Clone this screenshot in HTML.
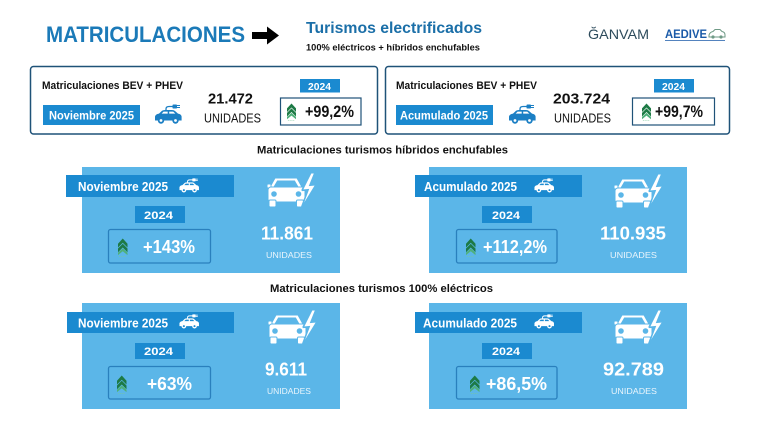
<!DOCTYPE html>
<html><head><meta charset="utf-8"><style>
html,body{margin:0;padding:0;background:#fff;}
svg{display:block;}
text{font-family:"Liberation Sans",sans-serif;}
</style></head><body>
<svg width="760" height="427" viewBox="0 0 760 427" xmlns="http://www.w3.org/2000/svg">
<defs>
  <symbol id="scar" viewBox="0 0 30 21" overflow="visible">
    <path d="M13,9 L13,6 Q13,3.5 16,3.5 L20,3.5" fill="none" stroke="currentColor" stroke-width="1.3"/>
    <rect x="19.5" y="1.5" width="4.5" height="4" rx="0.8" fill="currentColor"/>
    <path d="M24,2.5 L27,2.5 M24,4.5 L27,4.5" stroke="currentColor" stroke-width="1"/>
    <path d="M2,17.5 L2,13.5 Q2.5,11.2 6,10.6 L9,7.8 Q10,7 12,7 L19,7 Q21,7 22,8 L25,10.6 Q28.3,11.2 28.6,13.5 L28.6,17.5 Z" fill="currentColor"/>
    <path d="M10.6,8.6 L14.7,8.6 L14.7,10.6 L8.6,10.6 Z M16.2,8.6 L20.2,8.6 L22.4,10.6 L16.2,10.6 Z"/>
    <circle cx="8" cy="17.5" r="3.2" fill="currentColor"/>
    <circle cx="22.5" cy="17.5" r="3.2" fill="currentColor"/>
    <circle cx="8" cy="17.5" r="1.4"/>
    <circle cx="22.5" cy="17.5" r="1.4"/>
  </symbol>
  <symbol id="fcar" viewBox="0 0 48 35" overflow="visible">
    <path d="M8,5 L30,5 L35.5,15 L2.5,15 Z" fill="currentColor"/>
    <path d="M10.5,8 L27.5,8 L31,14 L7,14 Z"/>
    <rect x="0" y="11" width="4" height="4" rx="1" fill="currentColor"/>
    <rect x="1" y="14" width="37" height="15" rx="3" fill="currentColor"/>
    <circle cx="7" cy="21" r="2.3"/>
    <circle cx="31.5" cy="21" r="2.3"/>
    <rect x="2" y="27" width="7" height="7" rx="1.2" fill="currentColor"/>
    <rect x="29.5" y="27" width="7" height="7" rx="1.2" fill="currentColor"/>
    <path d="M44,0 L35.5,17 L41.5,16.5 L35,34 L48.5,12 L42.5,12.5 L47.5,0 Z" stroke-width="2.2" stroke-linejoin="round"/>
    <path d="M44,0 L35.5,17 L41.5,16.5 L35,34 L48.5,12 L42.5,12.5 L47.5,0 Z" fill="currentColor"/>
  </symbol>
  <symbol id="chev" viewBox="0 0 10 19" overflow="visible">
    <path d="M0,5.5 L5,0 L10,5.5 L10,9.5 L5,4.5 L0,9.5 Z" fill="#1d7a45"/>
    <path d="M0,10.5 L5,5.5 L10,10.5 L10,14.5 L5,9.5 L0,14.5 Z" fill="#1d7a45"/>
    <path d="M0,15 L5,10.5 L10,15 L10,17.5 L5,13.5 L0,17.5 Z" fill="#4fb07a"/>
    <path d="M1,19 L9,19" stroke="#7cc79b" stroke-width="0.8" stroke-dasharray="1 1"/>
  </symbol>
</defs>

<text x="46" y="42" font-size="22" font-weight="bold" fill="#1b7ab8" textLength="199" lengthAdjust="spacingAndGlyphs">MATRICULACIONES</text>
<path d="M252,32 L267,32 L267,26.5 L279,35.5 L267,44.5 L267,39 L252,39 Z" fill="#000"/>
<text x="306" y="33" font-size="15.5" font-weight="bold" fill="#1b6fa8" textLength="176" lengthAdjust="spacingAndGlyphs">Turismos electrificados</text>
<text x="306" y="50.5" font-size="9" font-weight="bold" fill="#111" textLength="174" lengthAdjust="spacingAndGlyphs">100% eléctricos + híbridos enchufables</text>

<text x="588" y="39" font-size="14" fill="#2d4b5c" textLength="61" lengthAdjust="spacingAndGlyphs">ĞANVAM</text>
<text x="665" y="38" font-size="12" font-weight="bold" fill="#1a5aa8" textLength="42" lengthAdjust="spacingAndGlyphs">AEDIVE</text>
<line x1="665" y1="40.5" x2="725" y2="40.5" stroke="#1a5aa8" stroke-width="0.8"/>
<g transform="translate(709,29)">
  <path d="M0,6 Q1,3 4,2.5 L6,0.5 L11,0.5 L13,2.5 Q16,3 16,6 L16,8 L0,8 Z" fill="none" stroke="#6f9a86" stroke-width="1"/>
  <circle cx="4" cy="8" r="1.6" fill="#6f9a86"/><circle cx="12" cy="8" r="1.6" fill="#6f9a86"/>
</g>

<rect x="30.5" y="66.5" width="347" height="67.5" rx="3" fill="#fff" stroke="#1f5278" stroke-width="1.5"/>
<text x="42" y="89" font-size="11" font-weight="bold" fill="#111" textLength="141" lengthAdjust="spacingAndGlyphs">Matriculaciones BEV + PHEV</text>
<rect x="43" y="105" width="97" height="20" fill="#1b8ad0"/>
<text x="49" y="119.5" font-size="11.5" font-weight="bold" fill="#fff" textLength="85" lengthAdjust="spacingAndGlyphs">Noviembre 2025</text>
<use href="#scar" x="153" y="103" width="30" height="21" fill="#ffffff" color="#1b7fc4"/>
<text x="208" y="103.5" font-size="15" font-weight="bold" fill="#111" textLength="45" lengthAdjust="spacingAndGlyphs">21.472</text>
<text x="204" y="122.5" font-size="12.5" fill="#111" textLength="57" lengthAdjust="spacingAndGlyphs">UNIDADES</text>
<rect x="300" y="79" width="40" height="13.5" fill="#1b8ad0"/>
<text x="308" y="90" font-size="10.5" font-weight="bold" fill="#fff" textLength="23" lengthAdjust="spacingAndGlyphs">2024</text>
<rect x="280.5" y="98" width="80.5" height="27" fill="#fff" stroke="#1f5278" stroke-width="1.2"/>
<use href="#chev" x="287" y="103" width="9" height="18"/>
<text x="305" y="117" font-size="17" font-weight="bold" fill="#111" textLength="49" lengthAdjust="spacingAndGlyphs">+99,2%</text>

<rect x="385.5" y="66.5" width="344" height="67.5" rx="3" fill="#fff" stroke="#1f5278" stroke-width="1.5"/>
<text x="396" y="89" font-size="11" font-weight="bold" fill="#111" textLength="141" lengthAdjust="spacingAndGlyphs">Matriculaciones BEV + PHEV</text>
<rect x="396" y="105" width="97" height="20" fill="#1b8ad0"/>
<text x="400" y="119.5" font-size="11.5" font-weight="bold" fill="#fff" textLength="88" lengthAdjust="spacingAndGlyphs">Acumulado 2025</text>
<use href="#scar" x="507" y="103" width="30" height="21" fill="#ffffff" color="#1b7fc4"/>
<text x="553" y="103.5" font-size="15" font-weight="bold" fill="#111" textLength="57" lengthAdjust="spacingAndGlyphs">203.724</text>
<text x="554" y="122.5" font-size="12.5" fill="#111" textLength="57" lengthAdjust="spacingAndGlyphs">UNIDADES</text>
<rect x="654" y="79" width="40" height="13.5" fill="#1b8ad0"/>
<text x="662" y="90" font-size="10.5" font-weight="bold" fill="#fff" textLength="23" lengthAdjust="spacingAndGlyphs">2024</text>
<rect x="632.5" y="98" width="82" height="27" fill="#fff" stroke="#1f5278" stroke-width="1.2"/>
<use href="#chev" x="642" y="103" width="9" height="18"/>
<text x="655" y="117" font-size="17" font-weight="bold" fill="#111" textLength="48" lengthAdjust="spacingAndGlyphs">+99,7%</text>

<text x="257" y="153.5" font-size="11" font-weight="bold" fill="#111" textLength="251" lengthAdjust="spacingAndGlyphs">Matriculaciones turismos híbridos enchufables</text>

<rect x="82" y="167" width="258" height="106" fill="#5bb6e8"/>
<rect x="66" y="175" width="168" height="22" fill="#1b8ad0"/>
<text x="78" y="191" font-size="12.5" font-weight="bold" fill="#fff" textLength="90" lengthAdjust="spacingAndGlyphs">Noviembre 2025</text>
<use href="#scar" x="178" y="177" width="22" height="16" fill="#1b8ad0" color="#ffffff"/>
<rect x="135" y="206" width="50" height="17" fill="#1b8ad0"/>
<text x="144" y="219" font-size="11" font-weight="bold" fill="#fff" textLength="29" lengthAdjust="spacingAndGlyphs">2024</text>
<rect x="108.5" y="229.5" width="102" height="33.5" rx="2" fill="#5bb6e8" stroke="#2a80bd" stroke-width="1.3"/>
<use href="#chev" x="118" y="238" width="9.5" height="19"/>
<text x="143" y="253" font-size="18" font-weight="bold" fill="#fff" textLength="52" lengthAdjust="spacingAndGlyphs">+143%</text>
<use href="#fcar" x="267" y="173" width="48" height="35" fill="#5bb6e8" stroke="#5bb6e8" color="#ffffff"/>
<text x="261" y="239.5" font-size="18" font-weight="bold" fill="#fff" textLength="52" lengthAdjust="spacingAndGlyphs">11.861</text>
<text x="266" y="258" font-size="8.5" fill="#eaf5fc" textLength="46" lengthAdjust="spacingAndGlyphs">UNIDADES</text>

<rect x="429" y="167" width="258" height="106" fill="#5bb6e8"/>
<rect x="415" y="175" width="167" height="22" fill="#1b8ad0"/>
<text x="424" y="191" font-size="12.5" font-weight="bold" fill="#fff" textLength="93" lengthAdjust="spacingAndGlyphs">Acumulado 2025</text>
<use href="#scar" x="533" y="177" width="22" height="16" fill="#1b8ad0" color="#ffffff"/>
<rect x="482" y="206" width="50" height="17" fill="#1b8ad0"/>
<text x="492" y="219" font-size="11" font-weight="bold" fill="#fff" textLength="28" lengthAdjust="spacingAndGlyphs">2024</text>
<rect x="456.5" y="229.5" width="100.5" height="33.5" rx="2" fill="#5bb6e8" stroke="#2a80bd" stroke-width="1.3"/>
<use href="#chev" x="466" y="238" width="9.5" height="19"/>
<text x="483" y="253" font-size="18" font-weight="bold" fill="#fff" textLength="64" lengthAdjust="spacingAndGlyphs">+112,2%</text>
<use href="#fcar" x="614" y="174" width="48" height="35" fill="#5bb6e8" stroke="#5bb6e8" color="#ffffff"/>
<text x="600" y="239.5" font-size="18" font-weight="bold" fill="#fff" textLength="66" lengthAdjust="spacingAndGlyphs">110.935</text>
<text x="610" y="258" font-size="8.5" fill="#eaf5fc" textLength="47" lengthAdjust="spacingAndGlyphs">UNIDADES</text>

<text x="270" y="292" font-size="11" font-weight="bold" fill="#111" textLength="223" lengthAdjust="spacingAndGlyphs">Matriculaciones turismos 100% eléctricos</text>

<rect x="82" y="303" width="258" height="106" fill="#5bb6e8"/>
<rect x="67" y="312" width="167" height="21" fill="#1b8ad0"/>
<text x="78" y="327.5" font-size="12.5" font-weight="bold" fill="#fff" textLength="90" lengthAdjust="spacingAndGlyphs">Noviembre 2025</text>
<use href="#scar" x="178" y="313" width="22" height="16" fill="#1b8ad0" color="#ffffff"/>
<rect x="135" y="343" width="50" height="16" fill="#1b8ad0"/>
<text x="144" y="355" font-size="11" font-weight="bold" fill="#fff" textLength="29" lengthAdjust="spacingAndGlyphs">2024</text>
<rect x="108.5" y="366.5" width="102" height="32.5" rx="2" fill="#5bb6e8" stroke="#2a80bd" stroke-width="1.3"/>
<use href="#chev" x="117" y="375" width="9.5" height="19"/>
<text x="147" y="390" font-size="18" font-weight="bold" fill="#fff" textLength="45" lengthAdjust="spacingAndGlyphs">+63%</text>
<use href="#fcar" x="268" y="310" width="48" height="35" fill="#5bb6e8" stroke="#5bb6e8" color="#ffffff"/>
<text x="265" y="375.5" font-size="18" font-weight="bold" fill="#fff" textLength="42" lengthAdjust="spacingAndGlyphs">9.611</text>
<text x="267" y="394" font-size="8.5" fill="#eaf5fc" textLength="44" lengthAdjust="spacingAndGlyphs">UNIDADES</text>

<rect x="429" y="303" width="258" height="106" fill="#5bb6e8"/>
<rect x="415" y="312" width="167" height="21" fill="#1b8ad0"/>
<text x="423" y="327.5" font-size="12.5" font-weight="bold" fill="#fff" textLength="94" lengthAdjust="spacingAndGlyphs">Acumulado 2025</text>
<use href="#scar" x="533" y="313" width="22" height="16" fill="#1b8ad0" color="#ffffff"/>
<rect x="482" y="343" width="50" height="16" fill="#1b8ad0"/>
<text x="492" y="355" font-size="11" font-weight="bold" fill="#fff" textLength="28" lengthAdjust="spacingAndGlyphs">2024</text>
<rect x="456.5" y="366.5" width="100.5" height="32.5" rx="2" fill="#5bb6e8" stroke="#2a80bd" stroke-width="1.3"/>
<use href="#chev" x="470" y="375" width="9.5" height="19"/>
<text x="486" y="390" font-size="18" font-weight="bold" fill="#fff" textLength="61" lengthAdjust="spacingAndGlyphs">+86,5%</text>
<use href="#fcar" x="614" y="310" width="48" height="35" fill="#5bb6e8" stroke="#5bb6e8" color="#ffffff"/>
<text x="603" y="375.5" font-size="18" font-weight="bold" fill="#fff" textLength="61" lengthAdjust="spacingAndGlyphs">92.789</text>
<text x="611" y="394" font-size="8.5" fill="#eaf5fc" textLength="46" lengthAdjust="spacingAndGlyphs">UNIDADES</text>
</svg>
</body></html>
